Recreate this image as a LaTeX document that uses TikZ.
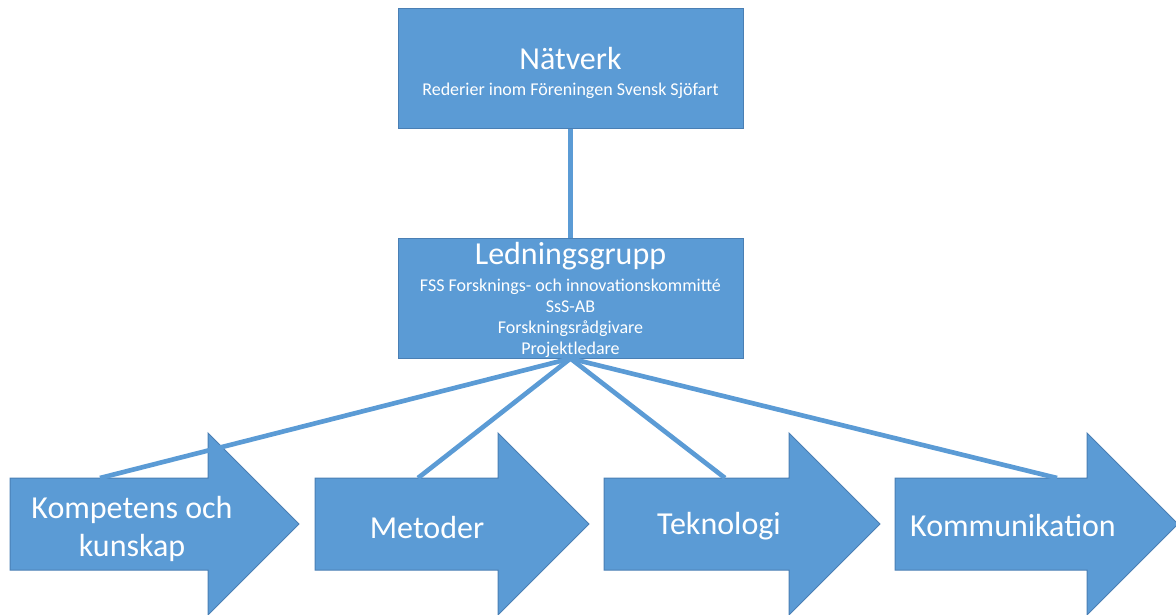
\documentclass[tikz,border=0pt]{standalone}
\usepackage{fontspec}
\setmainfont{Carlito}
\usepackage{tikz}
\usetikzlibrary{positioning}

\definecolor{boxblue}{HTML}{5B9BD5}
\definecolor{boxedge}{HTML}{4A7FB4}

\begin{document}
\begin{tikzpicture}[
    x=0.75pt, y=-0.75pt,
    % Define box and arrow styles
    orgbox/.style={draw=boxedge, line width=0.75pt, fill=boxblue, text=white,
        minimum width=258.75pt, minimum height=90pt, inner sep=0pt, align=center,
        font=\fontsize{13.5}{15.6}\selectfont},
    bigarrow/.style={draw=boxedge, line width=0.75pt, fill=boxblue},
    arrowtext/.style={text=white, align=center, inner sep=0pt,
        font=\fontsize{24}{28.5}\selectfont},
    link/.style={draw=boxblue, line width=3.5pt} % Style for connecting lines
]

% Frame of the picture
\useasboundingbox (0,0) rectangle (1176,614);
\clip (0,0) rectangle (1176,614);

% Boxes
\node[orgbox] (natverk) at (570.5,68)
    {{\fontsize{24}{28}\selectfont\rule{0pt}{24pt}Nätverk}\\[3.5pt]Rederier inom Föreningen Svensk Sjöfart};
\node[orgbox, text height=84pt, text depth=0pt] (ledning) at (570.5,298)
    {{\fontsize{24}{28}\selectfont Ledningsgrupp}\\[4.5pt]FSS Forsknings- och innovationskommitté\\SsS-AB\\Forskningsrådgivare\\Projektledare};

% Arrows with labels
\foreach \lx/\bx/\tx/\ty/\ex/\name/\label in {
    10/208/132/529/100/komp/{Kompetens och\\kunskap},
    315/498/427/527/418/met/Metoder,
    604/789/719/526/725/tek/Teknologi,
    895/1087/1013/525/1057/kom/Kommunikation}{
  \filldraw[bigarrow] (\lx,478) -- (\bx,478) -- (\bx,433) -- ({\bx+91},524)
      -- (\bx,615) -- (\bx,570) -- (\lx,570) -- cycle;
  \node[arrowtext] (\name) at (\tx,\ty) {\label};
  \coordinate (\name-top) at (\ex,478);
}

% Links between levels
\draw[link] (natverk) -- (ledning);
\foreach \name in {komp,met,tek,kom}
  \draw[link] (ledning.south) -- (\name-top);

\end{tikzpicture}
\end{document}
